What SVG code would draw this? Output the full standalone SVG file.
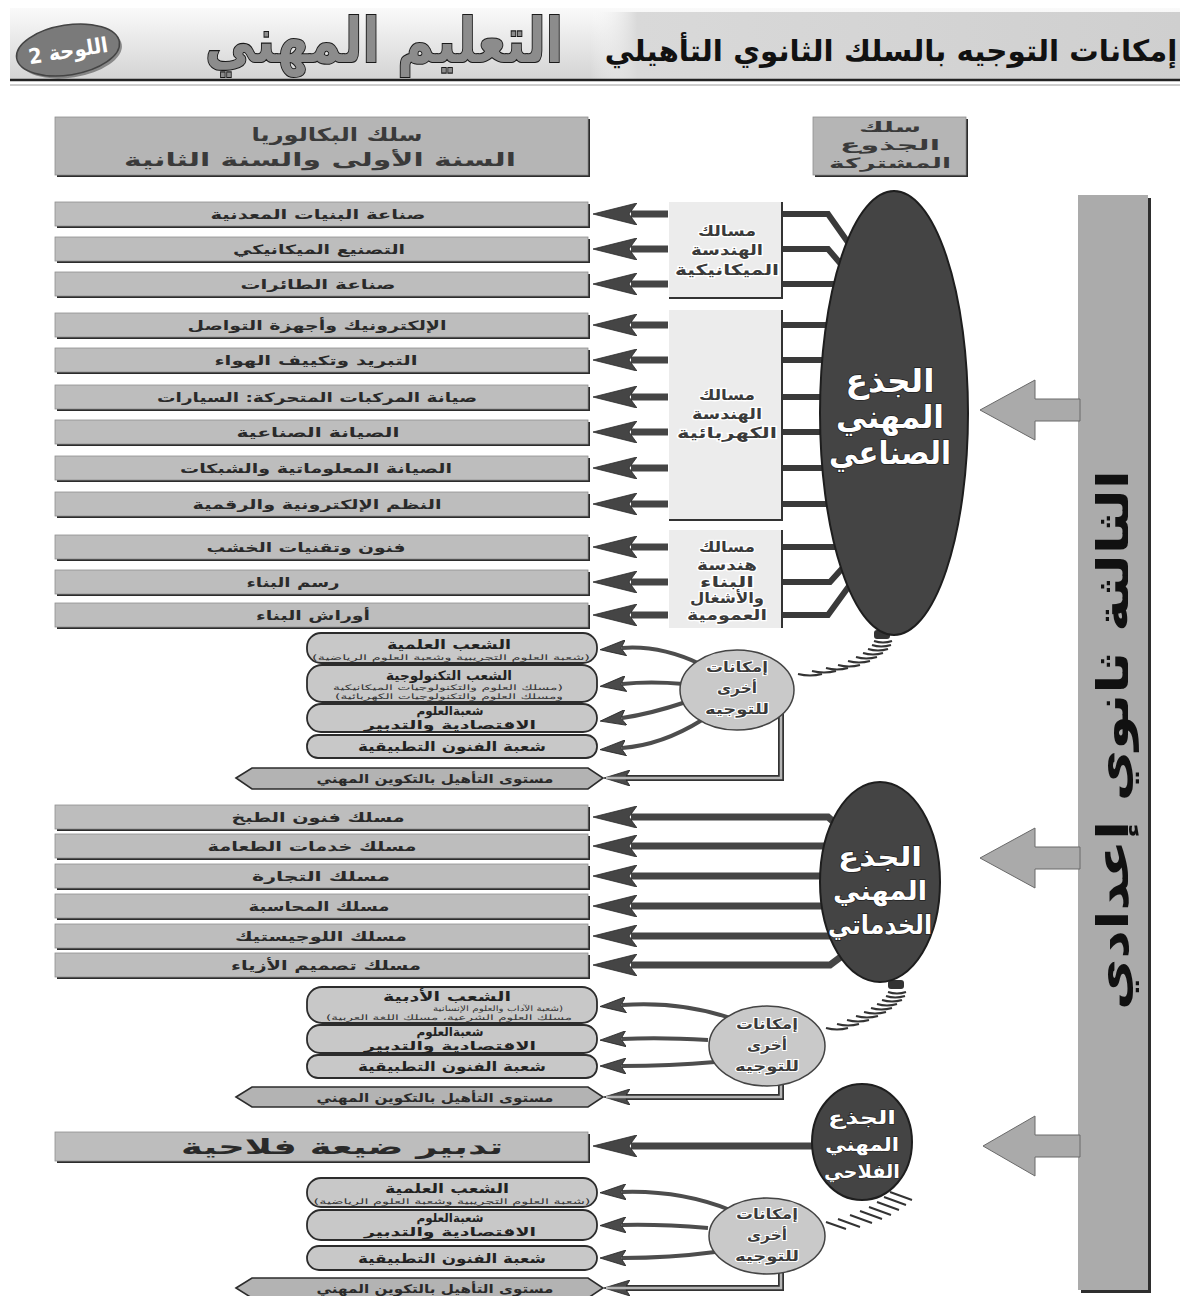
<svg xmlns="http://www.w3.org/2000/svg" width="1190" height="1296" viewBox="0 0 1190 1296">
<defs>
  <linearGradient id="hdr" x1="0" y1="0" x2="0" y2="1">
    <stop offset="0" stop-color="#fafafa"/>
    <stop offset="1" stop-color="#d4d4d4"/>
  </linearGradient>
  <linearGradient id="hdrR" x1="0" y1="0" x2="1" y2="0">
    <stop offset="0" stop-color="#ffffff" stop-opacity="0"/>
    <stop offset="0.08" stop-color="#d9d9d9"/>
    <stop offset="1" stop-color="#cfcfcf"/>
  </linearGradient>
  <marker id="head" viewBox="0 0 44 22" markerWidth="44" markerHeight="22" markerUnits="userSpaceOnUse" refX="6" refY="11" orient="auto">
    <path d="M0,0 L44,11 L0,22 L8,11 z" fill="#454545" stroke="#2a2a2a" stroke-width="0.8"/>
  </marker>
  <marker id="headS" viewBox="0 0 26 16" markerWidth="26" markerHeight="16" markerUnits="userSpaceOnUse" refX="4" refY="8" orient="auto">
    <path d="M0,0 L26,8 L0,16 L5,8 z" fill="#4a4a4a" stroke="#222" stroke-width="0.8"/>
  </marker>
  <style>
    .t{font-family:"DejaVu Sans",sans-serif;font-weight:bold;text-anchor:middle;direction:rtl}
    .item-sh{fill:#2c2c2c}
    .item{fill:#bdbdbd;stroke:#8f8f8f;stroke-width:0.8}
    .item-t{font-size:13px;fill:#2a2a2a}
    .cat{fill:#ececec}
    .cat-edge{fill:none;stroke:#333;stroke-width:2}
    .cat-t{font-size:15px;fill:#3a3a3a;stroke:#fff;stroke-width:2.5;paint-order:stroke}
    .trunk{fill:#444;stroke:#1e1e1e;stroke-width:2}
    .trunk-t{fill:#fff;stroke:#222;stroke-width:1.5;paint-order:stroke}
    .tk-l{font-size:32px}
    .tk-m{font-size:26px}
    .tk-s{font-size:19px;stroke-width:1.2}
    .opt{fill:#c9c9c9;stroke:#444;stroke-width:1.5}
    .opt-t{font-size:14px;fill:#3a3a3a;stroke:#fff;stroke-width:2;paint-order:stroke}
    .pill{fill:#c8c8c8;stroke:#2c2c2c;stroke-width:1.8}
    .pill-t{font-size:13px;fill:#222}
    .pill-t2{font-size:11.5px;fill:#222}
    .pill-s{font-size:7.5px;fill:#333;font-weight:normal}
    .hex{fill:#b3b3b3;stroke:#2c2c2c;stroke-width:1.6}
    .hex-t{font-size:12px;fill:#2a2a2a}
    .arr{fill:none;stroke:#454545;stroke-width:7;marker-end:url(#head)}
    .link{fill:none;stroke:#3a3a3a;stroke-width:6}
    .curve{fill:none;stroke:#4d4d4d;stroke-width:4;marker-end:url(#headS)}
    .route-o{fill:none;stroke:#333;stroke-width:6;marker-end:url(#headS)}
    .route-i{fill:none;stroke:#b5b5b5;stroke-width:2.5}
    .coil{fill:none;stroke:#333;stroke-width:2}
    .big{fill:#aaaaaa;stroke:#6a6a6a;stroke-width:1}
  </style>
</defs>

<rect width="1190" height="1296" fill="#ffffff"/>

<!-- header band -->
<g id="header">
  <rect x="10" y="8" width="1170" height="71" fill="url(#hdr)"/>
  <rect x="590" y="12" width="590" height="67" fill="url(#hdrR)"/>
  <line x1="10" y1="80" x2="1180" y2="80" stroke="#222" stroke-width="2.5"/>
  <line x1="10" y1="85" x2="1180" y2="85" stroke="#9a9a9a" stroke-width="1"/>
  <text class="t" x="891" y="61" font-size="29.4" fill="#111">إمكانات التوجيه بالسلك الثانوي التأهيلي</text>
  <text class="t" x="384" y="62" font-size="62" fill="#8c8c8c" stroke="#1a1a1a" stroke-width="2.2" paint-order="stroke" textLength="358" lengthAdjust="spacingAndGlyphs">التعليم المهني</text>
  <g id="plate" transform="rotate(-9 68 50)">
    <ellipse cx="70" cy="53" rx="52" ry="25" fill="#333" opacity="0.5"/>
    <ellipse cx="68" cy="50" rx="52" ry="25" fill="#7a7a7a" stroke="#444" stroke-width="1.5"/>
    <text class="t" x="68" y="58" font-size="21" fill="#fff" font-weight="normal" textLength="80" lengthAdjust="spacingAndGlyphs">اللوحة 2</text>
  </g>
</g>

<!-- connectors -->
<g id="connectors">
  <!-- short arrows from the engineering groups to the specialities -->
  <path class="arr" d="M668,214 H631"/>
  <path class="arr" d="M668,249 H631"/>
  <path class="arr" d="M668,284 H631"/>
  <path class="arr" d="M668,325 H631"/>
  <path class="arr" d="M668,360 H631"/>
  <path class="arr" d="M668,397 H631"/>
  <path class="arr" d="M668,432 H631"/>
  <path class="arr" d="M668,468 H631"/>
  <path class="arr" d="M668,504 H631"/>
  <path class="arr" d="M668,547 H631"/>
  <path class="arr" d="M668,582 H631"/>
  <path class="arr" d="M668,615 H631"/>
  <!-- links from the industrial trunk to the engineering groups -->
  <path class="link" d="M782,214 H828 L852,248"/>
  <path class="link" d="M782,249 H828 L846,270"/>
  <path class="link" d="M782,284 H850"/>
  <path class="link" d="M782,325 H850"/>
  <path class="link" d="M782,360 H850"/>
  <path class="link" d="M782,397 H850"/>
  <path class="link" d="M782,432 H850"/>
  <path class="link" d="M782,468 H850"/>
  <path class="link" d="M782,504 H850"/>
  <path class="link" d="M782,547 H850"/>
  <path class="link" d="M782,582 H830 L848,562"/>
  <path class="link" d="M782,615 H828 L852,582"/>
  <!-- services trunk arrows -->
  <path class="arr" d="M845,832 L828,817 H631"/>
  <path class="arr" d="M850,846 H631"/>
  <path class="arr" d="M850,876 H631"/>
  <path class="arr" d="M850,906 H631"/>
  <path class="arr" d="M850,936 H631"/>
  <path class="arr" d="M850,950 L830,965 H631"/>
  <!-- agricultural trunk arrow -->
  <path class="arr" d="M830,1146 H631"/>
  <!-- other-orientation arrows, industrial -->
  <path class="curve" d="M700,664 Q660,645 622,648"/>
  <path class="curve" d="M684,684 Q650,681 622,684"/>
  <path class="curve" d="M686,702 Q650,714 622,718"/>
  <path class="curve" d="M702,720 Q662,745 622,748"/>
  <path class="route-o" d="M781,712 V778 H626"/>
  <path class="route-i" d="M781,712 V778 H606"/>
  <!-- other-orientation arrows, services -->
  <path class="curve" d="M730,1018 Q680,1001 622,1005"/>
  <path class="curve" d="M708,1040 Q660,1037 622,1039"/>
  <path class="curve" d="M715,1062 Q670,1066 622,1066"/>
  <path class="route-o" d="M781,1078 V1097 H626"/>
  <path class="route-i" d="M781,1078 V1097 H606"/>
  <!-- other-orientation arrows, agricultural -->
  <path class="curve" d="M730,1210 Q680,1190 622,1192"/>
  <path class="curve" d="M708,1228 Q660,1224 622,1225"/>
  <path class="curve" d="M715,1252 Q670,1258 622,1258"/>
  <path class="route-o" d="M781,1268 V1288 H626"/>
  <path class="route-i" d="M781,1268 V1288 H606"/>
  <!-- coils tying each trunk to its options -->
  <g id="coil-1">
    <rect x="874" y="630" width="16" height="9" rx="3" fill="#333"/>
    <path class="coil" d="M874,641 q9,3 18,0 M872,645 q9,3 19,0 M868,649 q10,3 20,0 M863,653 q10,3 20,0 M856,657 q10,3 21,0 M848,661 q11,3 22,0 M838,665 q11,3 22,0 M826,668 q11,3 22,0 M812,671 q12,3 24,0 M798,674 q12,3 24,0"/>
  </g>
  <g id="coil-2">
    <rect x="888" y="980" width="16" height="9" rx="3" fill="#333"/>
    <path class="coil" d="M888,992 q9,3 18,0 M886,996 q9,3 19,0 M882,1000 q10,3 20,0 M877,1004 q10,3 20,0 M871,1008 q10,3 21,0 M864,1012 q11,3 22,0 M856,1016 q11,3 22,0 M847,1020 q11,3 22,0 M837,1024 q11,3 22,0 M826,1028 q11,3 22,0"/>
  </g>
  <g id="coil-3">
    <path class="coil" d="M890,1192 l22,8 M884,1197 l22,8 M877,1202 l22,8 M869,1207 l22,8 M860,1211 l22,8 M850,1215 l22,8 M838,1219 l22,8 M826,1222 l20,7"/>
  </g>
</g>

<!-- stage bar and its arrows -->
<g id="stage">
  <rect x="1081" y="198" width="70" height="1095" fill="#2e2e2e"/>
  <rect x="1078" y="195" width="70" height="1095" fill="#ababab"/>
  <polygon class="big" points="1080,399 1035,399 1035,380 980,410 1035,440 1035,421 1080,421"/>
  <polygon class="big" points="1080,847 1035,847 1035,828 980,858 1035,888 1035,869 1080,869"/>
  <polygon class="big" points="1080,1135 1035,1135 1035,1116 983,1146 1035,1176 1035,1157 1080,1157"/>
  <text class="t" transform="translate(1128 740) rotate(-90)" font-size="44" fill="#111" textLength="540" lengthAdjust="spacingAndGlyphs">الثالثة ثانوي إعدادي</text>
</g>

<!-- column headings -->
<g id="bac-cycle">
  <rect x="57" y="119" width="533" height="58" fill="#2c2c2c"/>
  <rect x="55" y="117" width="533" height="58" fill="#b5b5b5" stroke="#8f8f8f" stroke-width="0.8"/>
  <text class="t" x="337" y="141" font-size="18" fill="#3a3a3a" textLength="171" lengthAdjust="spacingAndGlyphs">سلك البكالوريا</text>
  <text class="t" x="320" y="166" font-size="18" fill="#3a3a3a" textLength="392" lengthAdjust="spacingAndGlyphs">السنة الأولى والسنة الثانية</text>
</g>
<g id="common-core">
  <rect x="815" y="119" width="153" height="58" fill="#2c2c2c"/>
  <rect x="813" y="117" width="153" height="58" fill="#b5b5b5" stroke="#8f8f8f" stroke-width="0.8"/>
  <text class="t" x="890" y="132" font-size="14" fill="#3a3a3a" textLength="62" lengthAdjust="spacingAndGlyphs">سلك</text>
  <text class="t" x="890" y="150" font-size="14" fill="#3a3a3a" textLength="100" lengthAdjust="spacingAndGlyphs">الجذوع</text>
  <text class="t" x="890" y="168" font-size="14" fill="#3a3a3a" textLength="122" lengthAdjust="spacingAndGlyphs">المشتركة</text>
</g>

<!-- industrial specialities -->
<g id="ind-1"><rect class="item-sh" x="57" y="204" width="533" height="24"/><rect class="item" x="55" y="202" width="533" height="24"/><text class="t item-t" x="318" y="219" textLength="215" lengthAdjust="spacingAndGlyphs">صناعة البنيات المعدنية</text></g>
<g id="ind-2"><rect class="item-sh" x="57" y="239" width="533" height="24"/><rect class="item" x="55" y="237" width="533" height="24"/><text class="t item-t" x="319" y="254" textLength="172" lengthAdjust="spacingAndGlyphs">التصنيع الميكانيكي</text></g>
<g id="ind-3"><rect class="item-sh" x="57" y="274" width="533" height="24"/><rect class="item" x="55" y="272" width="533" height="24"/><text class="t item-t" x="318" y="289" textLength="155" lengthAdjust="spacingAndGlyphs">صناعة الطائرات</text></g>
<g id="ind-4"><rect class="item-sh" x="57" y="315" width="533" height="24"/><rect class="item" x="55" y="313" width="533" height="24"/><text class="t item-t" x="317" y="330" textLength="259" lengthAdjust="spacingAndGlyphs">الإلكترونيك وأجهزة التواصل</text></g>
<g id="ind-5"><rect class="item-sh" x="57" y="350" width="533" height="24"/><rect class="item" x="55" y="348" width="533" height="24"/><text class="t item-t" x="316" y="365" textLength="203" lengthAdjust="spacingAndGlyphs">التبريد وتكييف الهواء</text></g>
<g id="ind-6"><rect class="item-sh" x="57" y="387" width="533" height="24"/><rect class="item" x="55" y="385" width="533" height="24"/><text class="t item-t" x="317" y="402" textLength="320" lengthAdjust="spacingAndGlyphs">صيانة المركبات المتحركة: السيارات</text></g>
<g id="ind-7"><rect class="item-sh" x="57" y="422" width="533" height="24"/><rect class="item" x="55" y="420" width="533" height="24"/><text class="t item-t" x="318" y="437" textLength="163" lengthAdjust="spacingAndGlyphs">الصيانة الصناعية</text></g>
<g id="ind-8"><rect class="item-sh" x="57" y="458" width="533" height="24"/><rect class="item" x="55" y="456" width="533" height="24"/><text class="t item-t" x="316" y="473" textLength="272" lengthAdjust="spacingAndGlyphs">الصيانة المعلوماتية والشبكات</text></g>
<g id="ind-9"><rect class="item-sh" x="57" y="494" width="533" height="24"/><rect class="item" x="55" y="492" width="533" height="24"/><text class="t item-t" x="317" y="509" textLength="249" lengthAdjust="spacingAndGlyphs">النظم الإلكترونية والرقمية</text></g>
<g id="ind-10"><rect class="item-sh" x="57" y="537" width="533" height="24"/><rect class="item" x="55" y="535" width="533" height="24"/><text class="t item-t" x="306" y="552" textLength="199" lengthAdjust="spacingAndGlyphs">فنون وتقنيات الخشب</text></g>
<g id="ind-11"><rect class="item-sh" x="57" y="572" width="533" height="24"/><rect class="item" x="55" y="570" width="533" height="24"/><text class="t item-t" x="293" y="587" textLength="93" lengthAdjust="spacingAndGlyphs">رسم البناء</text></g>
<g id="ind-12"><rect class="item-sh" x="57" y="605" width="533" height="24"/><rect class="item" x="55" y="603" width="533" height="24"/><text class="t item-t" x="313" y="620" textLength="114" lengthAdjust="spacingAndGlyphs">أوراش البناء</text></g>

<!-- engineering groups -->
<g id="grp-mech">
  <rect class="cat" x="669" y="202" width="113" height="96"/>
  <path class="cat-edge" d="M782,202 V298 H669"/>
  <text class="t cat-t" x="727" y="236" textLength="58" lengthAdjust="spacingAndGlyphs">مسالك</text>
  <text class="t cat-t" x="727" y="255" textLength="72" lengthAdjust="spacingAndGlyphs">الهندسة</text>
  <text class="t cat-t" x="727" y="275" textLength="104" lengthAdjust="spacingAndGlyphs">الميكانيكية</text>
</g>
<g id="grp-elec">
  <rect class="cat" x="669" y="310" width="113" height="210"/>
  <path class="cat-edge" d="M782,310 V520 H669"/>
  <text class="t cat-t" x="727" y="400" textLength="56" lengthAdjust="spacingAndGlyphs">مسالك</text>
  <text class="t cat-t" x="727" y="419" textLength="70" lengthAdjust="spacingAndGlyphs">الهندسة</text>
  <text class="t cat-t" x="727" y="438" textLength="100" lengthAdjust="spacingAndGlyphs">الكهربائية</text>
</g>
<g id="grp-build">
  <rect class="cat" x="669" y="530" width="113" height="98"/>
  <path class="cat-edge" d="M782,530 V628"/>
  <text class="t cat-t" x="727" y="552" textLength="56" lengthAdjust="spacingAndGlyphs">مسالك</text>
  <text class="t cat-t" x="727" y="570" textLength="60" lengthAdjust="spacingAndGlyphs">هندسة</text>
  <text class="t cat-t" x="727" y="587" textLength="54" lengthAdjust="spacingAndGlyphs">البناء</text>
  <text class="t cat-t" x="727" y="603" textLength="74" lengthAdjust="spacingAndGlyphs">والأشغال</text>
  <text class="t cat-t" x="727" y="620" textLength="80" lengthAdjust="spacingAndGlyphs">العمومية</text>
</g>

<!-- industrial trunk -->
<g id="trunk-ind">
  <ellipse class="trunk" cx="894" cy="413" rx="74" ry="222"/>
  <text class="t trunk-t tk-l" x="890" y="392" textLength="89" lengthAdjust="spacingAndGlyphs">الجذع</text>
  <text class="t trunk-t tk-l" x="890" y="428" textLength="108" lengthAdjust="spacingAndGlyphs">المهني</text>
  <text class="t trunk-t tk-l" x="890" y="464" textLength="122" lengthAdjust="spacingAndGlyphs">الصناعي</text>
</g>

<!-- industrial other options -->
<g id="opt-ind">
  <ellipse class="opt" cx="737" cy="690" rx="57" ry="40"/>
  <text class="t opt-t" x="737" y="672" textLength="62" lengthAdjust="spacingAndGlyphs">إمكانات</text>
  <text class="t opt-t" x="737" y="693" textLength="40" lengthAdjust="spacingAndGlyphs">أخرى</text>
  <text class="t opt-t" x="737" y="714" textLength="64" lengthAdjust="spacingAndGlyphs">للتوجيه</text>
</g>
<g id="ind-sci">
  <rect class="pill" x="307" y="633" width="290" height="30" rx="14"/>
  <text class="t pill-t" x="449" y="649" textLength="124" lengthAdjust="spacingAndGlyphs">الشعب العلمية</text>
  <text class="t pill-s" x="451" y="660" textLength="278" lengthAdjust="spacingAndGlyphs">(شعبة العلوم التجريبية وشعبة العلوم الرياضية)</text>
</g>
<g id="ind-tech">
  <rect class="pill" x="307" y="665" width="290" height="37" rx="15"/>
  <text class="t pill-t" x="449" y="680" textLength="126" lengthAdjust="spacingAndGlyphs">الشعب التكنولوجية</text>
  <text class="t pill-s" x="448" y="690" textLength="230" lengthAdjust="spacingAndGlyphs">(مسلك العلوم والتكنولوجيات الميكانيكية</text>
  <text class="t pill-s" x="449" y="699" textLength="228" lengthAdjust="spacingAndGlyphs">ومسلك العلوم والتكنولوجيات الكهربائية)</text>
</g>
<g id="ind-eco">
  <rect class="pill" x="307" y="704" width="290" height="28" rx="14"/>
  <text class="t pill-t2" x="450" y="715" textLength="67" lengthAdjust="spacingAndGlyphs">شعبةالعلوم</text>
  <text class="t pill-t2" x="450" y="729" textLength="172" lengthAdjust="spacingAndGlyphs">الاقتصادية والتدبير</text>
</g>
<g id="ind-art">
  <rect class="pill" x="307" y="735" width="290" height="23" rx="11"/>
  <text class="t pill-t" x="452" y="751" textLength="188" lengthAdjust="spacingAndGlyphs">شعبة الفنون التطبيقية</text>
</g>
<g id="ind-voc">
  <polygon class="hex" points="236,778 252,768 588,768 603,778 588,789 252,789"/>
  <text class="t hex-t" x="435" y="783" textLength="237" lengthAdjust="spacingAndGlyphs">مستوى التأهيل بالتكوين المهني</text>
</g>

<!-- services specialities -->
<g id="srv-1"><rect class="item-sh" x="57" y="807" width="533" height="24"/><rect class="item" x="55" y="805" width="533" height="24"/><text class="t item-t" x="318" y="822" textLength="173" lengthAdjust="spacingAndGlyphs">مسلك فنون الطبخ</text></g>
<g id="srv-2"><rect class="item-sh" x="57" y="836" width="533" height="24"/><rect class="item" x="55" y="834" width="533" height="24"/><text class="t item-t" x="312" y="851" textLength="209" lengthAdjust="spacingAndGlyphs">مسلك خدمات الطعامة</text></g>
<g id="srv-3"><rect class="item-sh" x="57" y="866" width="533" height="24"/><rect class="item" x="55" y="864" width="533" height="24"/><text class="t item-t" x="321" y="881" textLength="138" lengthAdjust="spacingAndGlyphs">مسلك التجارة</text></g>
<g id="srv-4"><rect class="item-sh" x="57" y="896" width="533" height="24"/><rect class="item" x="55" y="894" width="533" height="24"/><text class="t item-t" x="319" y="911" textLength="141" lengthAdjust="spacingAndGlyphs">مسلك المحاسبة</text></g>
<g id="srv-5"><rect class="item-sh" x="57" y="926" width="533" height="24"/><rect class="item" x="55" y="924" width="533" height="24"/><text class="t item-t" x="321" y="941" textLength="172" lengthAdjust="spacingAndGlyphs">مسلك اللوجيستيك</text></g>
<g id="srv-6"><rect class="item-sh" x="57" y="955" width="533" height="24"/><rect class="item" x="55" y="953" width="533" height="24"/><text class="t item-t" x="326" y="970" textLength="190" lengthAdjust="spacingAndGlyphs">مسلك تصميم الأزياء</text></g>

<!-- services trunk -->
<g id="trunk-srv">
  <ellipse class="trunk" cx="880" cy="882" rx="60" ry="100"/>
  <text class="t trunk-t tk-m" x="880" y="866" textLength="84" lengthAdjust="spacingAndGlyphs">الجذع</text>
  <text class="t trunk-t tk-m" x="880" y="900" textLength="94" lengthAdjust="spacingAndGlyphs">المهني</text>
  <text class="t trunk-t tk-m" x="880" y="934" textLength="104" lengthAdjust="spacingAndGlyphs">الخدماتي</text>
</g>

<!-- services other options -->
<g id="opt-srv">
  <ellipse class="opt" cx="767" cy="1046" rx="58" ry="40"/>
  <text class="t opt-t" x="767" y="1029" textLength="62" lengthAdjust="spacingAndGlyphs">إمكانات</text>
  <text class="t opt-t" x="767" y="1050" textLength="40" lengthAdjust="spacingAndGlyphs">أخرى</text>
  <text class="t opt-t" x="767" y="1071" textLength="64" lengthAdjust="spacingAndGlyphs">للتوجيه</text>
</g>
<g id="srv-lit">
  <rect class="pill" x="307" y="987" width="290" height="36" rx="15"/>
  <text class="t pill-t" x="447" y="1001" textLength="128" lengthAdjust="spacingAndGlyphs">الشعب الأدبية</text>
  <text class="t pill-s" x="498" y="1011" textLength="130" lengthAdjust="spacingAndGlyphs">(شعبة الآداب والعلوم الإنسانية</text>
  <text class="t pill-s" x="449" y="1020" textLength="246" lengthAdjust="spacingAndGlyphs">مسلك العلوم الشرعية، مسلك اللغة العربية)</text>
</g>
<g id="srv-eco">
  <rect class="pill" x="307" y="1025" width="290" height="28" rx="13"/>
  <text class="t pill-t2" x="450" y="1036" textLength="67" lengthAdjust="spacingAndGlyphs">شعبةالعلوم</text>
  <text class="t pill-t2" x="450" y="1050" textLength="172" lengthAdjust="spacingAndGlyphs">الاقتصادية والتدبير</text>
</g>
<g id="srv-art">
  <rect class="pill" x="307" y="1055" width="290" height="23" rx="11"/>
  <text class="t pill-t" x="452" y="1071" textLength="188" lengthAdjust="spacingAndGlyphs">شعبة الفنون التطبيقية</text>
</g>
<g id="srv-voc">
  <polygon class="hex" points="236,1097 252,1087 588,1087 603,1097 588,1107 252,1107"/>
  <text class="t hex-t" x="435" y="1102" textLength="237" lengthAdjust="spacingAndGlyphs">مستوى التأهيل بالتكوين المهني</text>
</g>

<!-- agricultural speciality -->
<g id="agr-1"><rect class="item-sh" x="57" y="1134" width="533" height="29"/><rect class="item" x="55" y="1132" width="533" height="29"/><text class="t" x="342" y="1154" font-size="21" fill="#2a2a2a" textLength="322" lengthAdjust="spacingAndGlyphs">تدبير ضيعة فلاحية</text></g>

<!-- agricultural trunk -->
<g id="trunk-agr">
  <ellipse class="trunk" cx="862" cy="1142" rx="50" ry="58"/>
  <text class="t trunk-t tk-s" x="862" y="1124" textLength="68" lengthAdjust="spacingAndGlyphs">الجذع</text>
  <text class="t trunk-t tk-s" x="862" y="1151" textLength="74" lengthAdjust="spacingAndGlyphs">المهني</text>
  <text class="t trunk-t tk-s" x="862" y="1178" textLength="76" lengthAdjust="spacingAndGlyphs">الفلاحي</text>
</g>

<!-- agricultural other options -->
<g id="opt-agr">
  <ellipse class="opt" cx="767" cy="1236" rx="58" ry="38"/>
  <text class="t opt-t" x="767" y="1219" textLength="62" lengthAdjust="spacingAndGlyphs">إمكانات</text>
  <text class="t opt-t" x="767" y="1240" textLength="40" lengthAdjust="spacingAndGlyphs">أخرى</text>
  <text class="t opt-t" x="767" y="1261" textLength="64" lengthAdjust="spacingAndGlyphs">للتوجيه</text>
</g>
<g id="agr-sci">
  <rect class="pill" x="307" y="1178" width="290" height="29" rx="14"/>
  <text class="t pill-t" x="447" y="1193" textLength="124" lengthAdjust="spacingAndGlyphs">الشعب العلمية</text>
  <text class="t pill-s" x="452" y="1204" textLength="277" lengthAdjust="spacingAndGlyphs">(شعبة العلوم التجريبية وشعبة العلوم الرياضية)</text>
</g>
<g id="agr-eco">
  <rect class="pill" x="307" y="1210" width="290" height="30" rx="14"/>
  <text class="t pill-t2" x="450" y="1222" textLength="67" lengthAdjust="spacingAndGlyphs">شعبةالعلوم</text>
  <text class="t pill-t2" x="450" y="1236" textLength="172" lengthAdjust="spacingAndGlyphs">الاقتصادية والتدبير</text>
</g>
<g id="agr-art">
  <rect class="pill" x="307" y="1246" width="290" height="24" rx="12"/>
  <text class="t pill-t" x="452" y="1263" textLength="188" lengthAdjust="spacingAndGlyphs">شعبة الفنون التطبيقية</text>
</g>
<g id="agr-voc">
  <polygon class="hex" points="236,1288 252,1278 588,1278 603,1288 588,1298 252,1298"/>
  <text class="t hex-t" x="435" y="1293" textLength="237" lengthAdjust="spacingAndGlyphs">مستوى التأهيل بالتكوين المهني</text>
</g>
</svg>
